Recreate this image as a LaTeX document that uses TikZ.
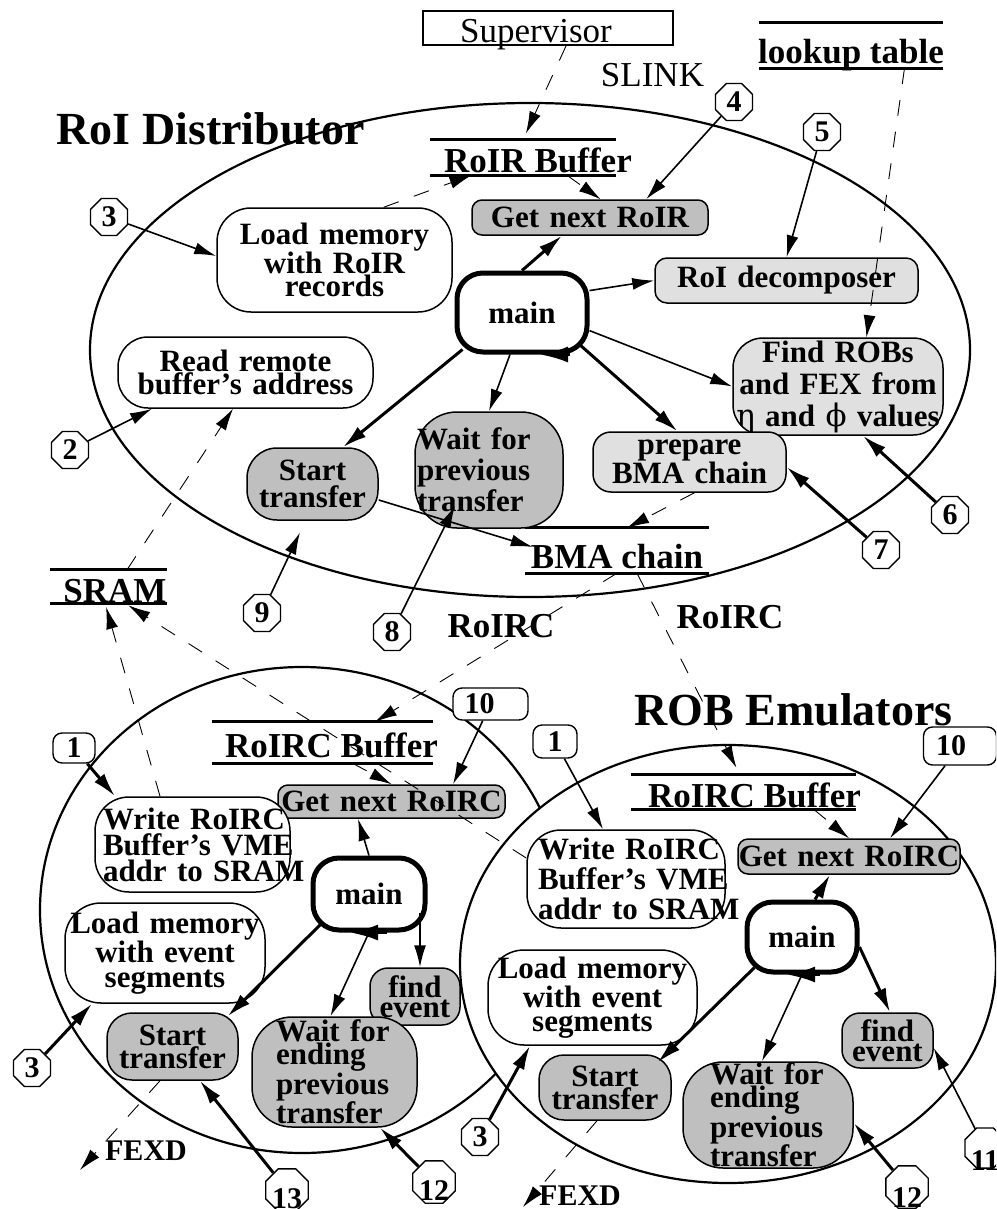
\documentclass[tikz,border=0pt]{standalone}
\usepackage{fontspec}
\setmainfont{Liberation Serif}
\newfontfamily\grkfont{DejaVu Serif}
\usetikzlibrary{arrows.meta,shapes.geometric}

\definecolor{midgray}{gray}{0.75}
\definecolor{palegray}{gray}{0.88}

% bold text of the process boxes, argument = baseline skip
\newcommand\ndfont[1]{\fontsize{31}{#1}\selectfont\bfseries}
% text centred on a zero-width box, moved sideways by half of #1
\newcommand\shiftedtext[2]{\makebox[0pt]{\hspace*{#1}#2}}
% digits set lower inside their marker
\newcommand\lowered[2]{\raisebox{-#1}[20pt][0pt]{#2}}

\tikzset{
  proc/.style={draw, line width=1.5pt, inner sep=0pt, align=center},
  pgray/.style={proc, fill=midgray},
  plight/.style={proc, fill=palegray},
  pwhite/.style={proc, fill=white},
  mainproc/.style={draw, line width=5pt, fill=white, inner sep=0pt,
    rounded corners=26pt, font=\ndfont{31}},
  store/.style={inner sep=0pt, text depth=0pt,
    font=\fontsize{35}{35}\selectfont\bfseries},
  storeline/.style={line width=3pt},
  num/.style={draw, line width=1.4pt, fill=white, regular polygon,
    regular polygon sides=8, minimum size=40pt, inner sep=0pt,
    font=\fontsize{30}{30}\selectfont\bfseries},
  numbox/.style={draw, line width=1.4pt, fill=white, rounded corners=9pt,
    inner sep=0pt, font=\fontsize{30}{30}\selectfont\bfseries},
  arr/.style={line width=1.6pt, -{Latex[length=22pt,width=12pt]}},
  arrt/.style={line width=3pt, -{Latex[length=24pt,width=13pt]}},
  looparr/.style={line width=3pt, -{Latex[length=28pt,width=16pt]}},
  darr/.style={line width=0.9pt, dash pattern=on 16pt off 16pt,
    -{Latex[length=22pt,width=12pt]}},
  ell/.style={line width=2.2pt, fill=white},
  title/.style={font=\fontsize{46}{46}\selectfont\bfseries, anchor=base},
  link/.style={font=\fontsize{35}{35}\selectfont\bfseries, anchor=base},
  fexd/.style={font=\fontsize{30}{30}\selectfont\bfseries, anchor=base},
}

\begin{document}
\begin{tikzpicture}[x=1pt, y=-1pt]
\useasboundingbox (0,0) rectangle (996,1209);
\fill[white] (0,0) rectangle (996,1209);
\clip (0,0) rectangle (996,1209);

% ---------- the three processors ----------
\draw[ell] (530,350) ellipse [x radius=440, y radius=247];
\draw[ell] (302,910) ellipse [x radius=262, y radius=243];
\draw[ell] (728,964) ellipse [x radius=268, y radius=219];

\node[title] (roidist) at (210.5,145) {RoI Distributor};
\node[title] (robem) at (793.5,725) {ROB Emulators};

% ---------- outside sources and links ----------
\node[draw, line width=2pt, minimum width=250pt, minimum height=34pt,
      inner sep=0pt, text height=30pt, text depth=0pt,
      font=\fontsize{35}{35}\selectfont] (sup) at (548,28)
      {\shiftedtext{-24pt}{Supervisor}};
\node[font=\fontsize{35}{35}\selectfont, anchor=base] (slink) at (652.5,87) {SLINK};
\node[link] (rc1) at (501,637) {RoIRC};
\node[link] (rc2) at (730,628) {RoIRC};
\node[fexd] (fexd1) at (146,1160) {FEXD};
\node[fexd] (fexd2) at (580,1205) {FEXD};

% ---------- data stores ----------
\node[store, minimum width=184pt, minimum height=45pt, text height=37pt]
  (lut) at (851,45.5) {\shiftedtext{0pt}{lookup table}};
\node[store, minimum width=186pt, minimum height=35pt, text height=31pt]
  (roirbuf) at (523,157.5) {\shiftedtext{30pt}{RoIR Buffer}};
\node[store, minimum width=184pt, minimum height=45pt, text height=35pt]
  (bmachain) at (617,550.5) {\shiftedtext{0pt}{BMA chain}};
\node[store, minimum width=117pt, minimum height=33pt, text height=31pt]
  (sram) at (108.5,586.5) {\shiftedtext{13pt}{SRAM}};
\node[store, minimum width=221pt, minimum height=41pt, text height=29pt]
  (rcbuf1) at (322.5,742.5) {\shiftedtext{18pt}{RoIRC Buffer}};
\node[store, minimum width=225pt, minimum height=34pt, text height=30pt]
  (rcbuf2) at (743.5,792) {\shiftedtext{22pt}{RoIRC Buffer}};
\foreach \s in {lut,roirbuf,bmachain,sram,rcbuf1,rcbuf2}
  \draw[storeline] (\s.north west) -- (\s.north east)
                   (\s.south west) -- (\s.south east);

% ---------- RoI Distributor processes ----------
\node[pgray, text width=236pt, minimum height=35pt, rounded corners=10pt,
      font=\ndfont{24}] (getroir) at (590,217.5) {Get next RoIR};
\node[pwhite, text width=235pt, minimum height=104pt, rounded corners=34pt,
      font=\ndfont{23.5}] (loadmem) at (334.5,260) {Load~memory\\with~RoIR\\records};
\node[mainproc, minimum width=130pt, minimum height=79pt] (main1) at (522,312.5) {main};
\node[plight, text width=263pt, minimum height=45pt, rounded corners=12pt,
      font=\ndfont{24}] (decomp) at (786.5,280.5) {RoI~decomposer};
\node[plight, text width=210pt, minimum height=97pt, rounded corners=30pt,
      font=\ndfont{32}] (findrobs) at (838,386.5)
      {Find~ROBs\\and~FEX~from\\{\grkfont\mdseries η}~and~{\grkfont\mdseries ϕ}~values};
\node[plight, text width=193pt, minimum height=60pt, rounded corners=18pt,
      font=\ndfont{22}] (prepbma) at (689.5,462) {prepare\\BMA~chain};
\node[pgray, text width=131pt, minimum height=72pt, rounded corners=30pt,
      font=\ndfont{27}] (start1) at (312.5,484) {Start\\transfer};
\node[pgray, align=left, text width=144pt, inner xsep=2pt, minimum height=116pt,
      rounded corners=42pt, font=\ndfont{31}] (wait1) at (489,470)
      {Wait~for\\previous\\transfer};
\node[pwhite, text width=255pt, minimum height=71pt, rounded corners=30pt,
      font=\ndfont{22}] (readrem) at (245.5,372.5) {Read~remote\\buffer's~address};

% ---------- first ROB emulator ----------
\node[pgray, text width=227pt, minimum height=33pt, rounded corners=10pt,
      font=\ndfont{24}] (getrc1) at (391.5,801.5) {Get~next~RoIRC};
\node[pwhite, align=left, text width=179pt, inner xsep=8pt, minimum height=95pt,
      rounded corners=34pt, font=\ndfont{26}] (write1) at (192.5,844.5)
      {Write~RoIRC\\Buffer's~VME\\addr~to~SRAM};
\node[mainproc, minimum width=112pt, minimum height=72pt] (main2) at (369,894) {main};
\node[pwhite, text width=200pt, minimum height=100pt, rounded corners=36pt,
      font=\ndfont{25}] (loadev1) at (165,953) {Load~memory\\with~event\\segments};
\node[pgray, text width=90pt, minimum height=57pt, rounded corners=18pt,
      font=\ndfont{20}] (find1) at (415,996.5) {find\\event};
\node[pgray, text width=131pt, minimum height=67pt, rounded corners=25pt,
      font=\ndfont{23}] (start2) at (172.5,1046.5) {Start\\transfer};
\node[pgray, align=left, text width=117pt, inner xsep=24pt, minimum height=110pt,
      rounded corners=40pt, font=\ndfont{23}] (wait2) at (334.5,1072)
      {Wait~for\\ending\\previous\\transfer};

% ---------- second ROB emulator ----------
\node[pgray, text width=222pt, minimum height=35pt, rounded corners=10pt,
      font=\ndfont{24}] (getrc2) at (849,856.5) {Get~next~RoIRC};
\node[pwhite, align=left, text width=176pt, inner xsep=11pt, minimum height=98pt,
      rounded corners=34pt, font=\ndfont{30}] (write2) at (626,879)
      {Write~RoIRC\\Buffer's~VME\\addr~to~SRAM};
\node[mainproc, minimum width=110pt, minimum height=70pt] (main3) at (802,937) {main};
\node[pwhite, text width=209pt, minimum height=95pt, rounded corners=36pt,
      font=\ndfont{23.5}] (loadev2) at (592.5,997.5) {Load~memory\\with~event\\segments};
\node[pgray, text width=91pt, minimum height=55pt, rounded corners=18pt,
      font=\ndfont{20}] (find2) at (887.5,1040.5) {find\\event};
\node[pgray, text width=132pt, minimum height=65pt, rounded corners=25pt,
      font=\ndfont{22}] (start3) at (605,1087.5) {Start\\transfer};
\node[pgray, align=left, text width=116pt, inner xsep=27pt, minimum height=106pt,
      rounded corners=40pt, font=\ndfont{23}] (wait3) at (768,1115)
      {Wait~for\\ending\\previous\\transfer};

% ---------- step markers ----------
\node[num] (m3) at (109,217) {3};
\node[num] (m2) at (70,450) {2};
\node[num] (m4) at (734,102) {4};
\node[num] (m5) at (822,132) {5};
\node[num] (m6) at (950,515) {6};
\node[num] (m7) at (881,550) {7};
\node[num] (m9) at (262,613) {9};
\node[num] (m8) at (392,632) {8};
\node[numbox, minimum width=42pt, minimum height=30pt] (m1a) at (74,748) {1};
\node[numbox, minimum width=44pt, minimum height=33pt] (m1b) at (555,741.5) {1};
\node[numbox, minimum width=75pt, minimum height=32pt] (m10a) at (490.5,704)
  {\shiftedtext{-22pt}{10}};
\node[numbox, minimum width=73pt, minimum height=38pt] (m10b) at (960,746)
  {\shiftedtext{-18pt}{10}};
\node[num] (m3b) at (32,1068) {3};
\node[num] (m3c) at (480,1137) {3};
\node[num] (m13) at (287,1190) {\lowered{8pt}{13}};
\node[num] (m12a) at (434,1182) {\lowered{8pt}{12}};
\node[num] (m12b) at (907,1187) {\lowered{10pt}{12}};
\node[num] (m11) at (985,1148) {\lowered{12pt}{11}};

% ---------- RoI Distributor flows ----------
\draw[darr, shorten >=7pt] (sup.-45) -- (roirbuf.north);
\draw[darr] (loadmem.47) -- (roirbuf.-161.7);
\draw[darr] (roirbuf.-22.6) -- (getroir.60.3);
\draw[arr] (m4) -- (getroir.18.3);
\draw[arr] (m5) -- (decomp.north);
\draw[darr] (lut.-23.4) -- (findrobs.60.9);
\draw[arrt] (main1.north) -- (getroir.-147);
\draw[arr] (main1.18.6) -- (decomp.west);
\draw[arr] (main1.-15) -- (findrobs.west);
\draw[arrt] ([xshift=-10pt,yshift=10pt]main1.south east) -- ([xshift=-12pt]prepbma.north);
\draw[arr] ([xshift=-12pt]main1.south) -- (wait1.north);
\draw[arrt] ([xshift=8pt,yshift=5pt]main1.south west) -- ([xshift=30.5pt]start1.north);
\draw[looparr] ([xshift=48pt]main1.south) -- ([xshift=18pt]main1.south);
\draw[arr] (m8) -- ([xshift=-34pt,yshift=23pt]wait1.south);
\draw[arr, shorten >=13pt] (m9) -- ([xshift=-7pt]start1.south);
\draw[arr] (m2) -- ([xshift=-93.5pt]readrem.south);
\draw[darr] ([xshift=18.5pt]sram.north) -- ([xshift=-12.5pt]readrem.south);
\draw[arr] (m3) -- ([yshift=4pt]loadmem.west);
\draw[arr] ([yshift=-16pt]start1.east) -- ([xshift=8pt,yshift=3.5pt]bmachain.west);
\draw[darr] ([xshift=5pt]prepbma.south) -- ([xshift=10pt]bmachain.north);
\draw[arrt] (m7) -- ([yshift=-5pt]prepbma.east);
\draw[arrt] (m6) -- ([xshift=25pt]findrobs.south);

% ---------- links between the processors ----------
\draw[darr] (bmachain.south) -- ([xshift=52.5pt]rcbuf1.north);
\draw[darr, shorten >=8pt] ([xshift=20pt]bmachain.south) -- ([xshift=-3.5pt]rcbuf2.north);
\draw[darr, shorten >=4pt] ([xshift=-32.5pt]write1.north) -- ([xshift=-3.5pt]sram.south);
\draw[darr, shorten >=4pt] ([yshift=21pt]write2.west) -- ([xshift=16.5pt]sram.south);

% ---------- first ROB emulator flows ----------
\draw[darr] ([xshift=30pt]rcbuf1.south) -- (getrc1.north);
\draw[arr] (m10a) -- ([xshift=61.5pt]getrc1.north);
\draw[arrt] (m1a) -- ([xshift=-77.5pt]write1.north);
\draw[arr] (main2.north) -- ([xshift=-33.5pt]getrc1.south);
\draw[arrt] ([xshift=10pt,yshift=8pt]main2.south west) -- ([xshift=-11pt,yshift=-4pt]start2.north east);
\draw[arr] (main2.south) -- ([xshift=-4pt]wait2.north);
\draw[arr] ([xshift=51pt,yshift=20pt]main2.south) -- ([xshift=5pt]find1.north);
\draw[looparr] ([xshift=18pt]main2.south) -- ([xshift=-19pt]main2.south);
\draw[arrt] (m3b) -- ([xshift=-73pt]loadev1.south);
\draw[arrt] (m13) -- ([xshift=27.5pt]start2.south);
\draw[arrt] (m12a) -- ([xshift=45.5pt]wait2.south);
\coordinate (fexdtip1) at (80,1170);
\draw[darr] ([xshift=-12.5pt]start2.south) -- (fexdtip1);

% ---------- second ROB emulator flows ----------
\draw[darr] ([xshift=70pt]rcbuf2.south) -- (getrc2.north);
\draw[arr] (m10b) -- ([xshift=41pt]getrc2.north);
\draw[arr] (m1b) -- ([xshift=-23pt]write2.north);
\draw[arrt] ([xshift=13pt]main3.north) -- ([xshift=-19pt]getrc2.south);
\draw[arrt] ([xshift=10pt,yshift=7pt]main3.south west) -- ([xshift=-14pt,yshift=-8pt]start3.north east);
\draw[arr] (main3.south) -- ([xshift=-6pt]wait3.north);
\draw[arrt] ([yshift=-10pt]main3.east) -- ([xshift=2.5pt]find2.north);
\draw[looparr] ([xshift=18pt]main3.south) -- ([xshift=-15pt]main3.south);
\draw[arrt] (m3c) -- ([xshift=-62.5pt]loadev2.south);
\draw[arr] (m11) -- ([yshift=-7.5pt]find2.east);
\draw[arrt] (m12b) -- ([yshift=-8pt]wait3.east);
\coordinate (fexdtip2) at (523,1207);
\draw[darr] ([xshift=-8pt]start3.south) -- (fexdtip2);
\end{tikzpicture}
\end{document}
